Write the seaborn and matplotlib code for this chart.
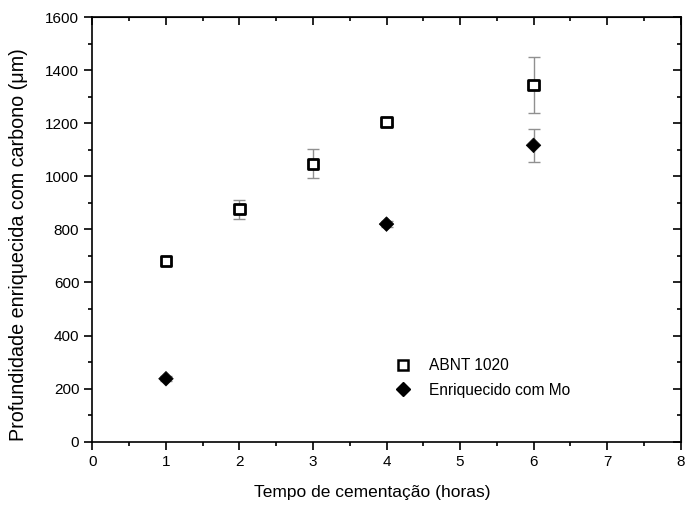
import matplotlib
matplotlib.use('Agg')
import matplotlib.pyplot as plt
from matplotlib.ticker import MultipleLocator
import pandas as pd
import seaborn as sns

# dados
tempo_abnt = [1, 2, 3, 4, 6]
prof_abnt = [681, 876, 1047, 1205, 1345]
erro_abnt = [15, 35, 55, 12, 105]

tempo_mo = [1, 4, 6]
prof_mo = [237, 820, 1117]
erro_mo = [10, 12, 63]

serie_abnt = 'ABNT 1020'
serie_mo = 'Enriquecido com Mo'

df = pd.DataFrame({
    'Tempo': tempo_abnt + tempo_mo,
    'Prof': prof_abnt + prof_mo,
    'Serie': [serie_abnt] * len(tempo_abnt) + [serie_mo] * len(tempo_mo),
})

sns.set_style('ticks')
plt.rcParams['font.family'] = ['Liberation Sans', 'DejaVu Sans']
plt.rcParams['text.color'] = 'black'
plt.rcParams['axes.labelcolor'] = 'black'
plt.rcParams['xtick.color'] = 'black'
plt.rcParams['ytick.color'] = 'black'
plt.rcParams['axes.edgecolor'] = 'black'

fig = plt.figure(figsize=(6.87, 5.07), dpi=100)
ax = fig.add_axes([0.1346, 0.129, 0.856, 0.837])

# barras de erro
ax.errorbar(tempo_abnt, prof_abnt, yerr=erro_abnt, fmt='none', ecolor='#909090',
            elinewidth=1, capsize=4, capthick=1, zorder=1)
ax.errorbar(tempo_mo, prof_mo, yerr=erro_mo, fmt='none', ecolor='#909090',
            elinewidth=1, capsize=4, capthick=1, zorder=1)

sns.scatterplot(data=df, x='Tempo', y='Prof', style='Serie', hue='Serie',
                markers={serie_abnt: 's', serie_mo: 'D'},
                palette={serie_abnt: 'white', serie_mo: 'black'},
                edgecolor='black', linewidth=2, s=55, ax=ax, zorder=3, legend=False)
ax.collections[-1].set_linewidths([2] * len(tempo_abnt) + [0.5] * len(tempo_mo))

ax.set_xlim(0, 8)
ax.set_ylim(0, 1600)
ax.xaxis.set_major_locator(MultipleLocator(1))
ax.xaxis.set_minor_locator(MultipleLocator(0.5))
ax.yaxis.set_major_locator(MultipleLocator(200))
ax.yaxis.set_minor_locator(MultipleLocator(100))
ax.tick_params(which='both', direction='out', labelsize=11, width=1.2)
ax.tick_params(which='major', length=5.5, pad=4)
ax.tick_params(which='minor', length=3)
for s in ax.spines.values():
    s.set_linewidth(1.2)

# ticks internos no topo e na direita
topo = ax.secondary_xaxis('top')
topo.xaxis.set_major_locator(MultipleLocator(1))
topo.xaxis.set_minor_locator(MultipleLocator(0.5))
topo.tick_params(which='both', direction='in', labeltop=False, width=1.2)
topo.tick_params(which='major', length=5.5)
topo.tick_params(which='minor', length=3)
direita = ax.secondary_yaxis('right')
direita.yaxis.set_major_locator(MultipleLocator(200))
direita.yaxis.set_minor_locator(MultipleLocator(100))
direita.tick_params(which='both', direction='in', labelright=False, width=1.2)
direita.tick_params(which='major', length=5.5)
direita.tick_params(which='minor', length=3)

ax.set_xlabel('Tempo de cementação (horas)', fontsize=12.5)
ax.set_ylabel('Profundidade enriquecida com carbono (μm)', fontsize=14.2)
ax.xaxis.set_label_coords(0.476, -0.102)
ax.yaxis.set_label_coords(-0.110, 0.465)

handles = [
    plt.Line2D([], [], ls='none', marker='s', markersize=7, markerfacecolor='white',
               markeredgecolor='black', markeredgewidth=1.8, label=serie_abnt),
    plt.Line2D([], [], ls='none', marker='D', markersize=7, markerfacecolor='black',
               markeredgecolor='black', label=serie_mo),
]
ax.legend(handles=handles, loc='center left', bbox_to_anchor=(0.485, 0.15), frameon=False,
          fontsize=11.2, handletextpad=0.9, labelspacing=0.62, handlelength=1.5)

fig.savefig('out.png', dpi=100)
